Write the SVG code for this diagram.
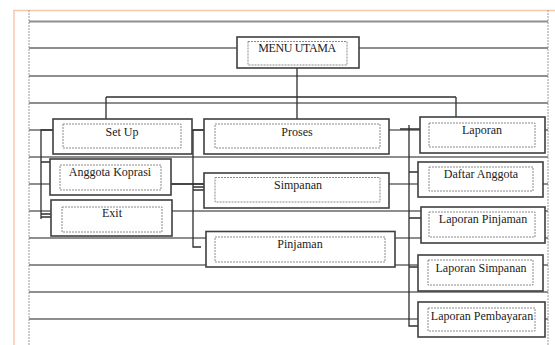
<svg xmlns="http://www.w3.org/2000/svg" width="555" height="345" viewBox="0 0 555 345">
<style>
.row{stroke:#8e8e8e;stroke-width:1.8;fill:none}
.vb{stroke:#9a9a9a;stroke-width:1;stroke-dasharray:2 1;fill:none}
.pg{stroke:#f6c9ad;stroke-width:1.5;fill:none}
.box{fill:#fff;stroke:#3f3f3f;stroke-width:1.6}
.in{fill:none;stroke:#8a8a8a;stroke-width:1;stroke-dasharray:2 1}
.t{font-family:"Liberation Serif","Times New Roman","DejaVu Serif",serif;font-size:12px;fill:#222;text-anchor:middle}
.c{stroke:#2f2f2f;stroke-width:1.3;fill:none}
</style>
<rect width="555" height="345" fill="#fff"/>
<g id="page">
<path class="pg" d="M13 10.5H555M14 10V345"/>
<path class="vb" d="M29 10V345M548 10V345"/>
<path class="row" d="M29 21.5H548M29 48H548M29 76H548M29 103H548M29 130H548M29 157H548M29 184H548M29 211H548M29 238H548M29 265H548M29 292H548M29 319H548"/>
</g>
<g id="connectors">
<path class="c" d="M297 68V97M106 97H456M106 97V119M297 97V119M456 97V117"/>
<path class="c" d="M53 130H41V219M41 162H50M41 214H51M41 217H51"/>
<path class="c" d="M192 130H204M193 130V247H201M193 187H204M193 190H204M171 184H204"/>
<path class="c" d="M409 125V326H418M400 129H420M409 172H418M409 218H421M409 267H418"/>
</g>
<g id="menu-utama"><rect class="box" x="237" y="37" width="122" height="31"/><rect class="in" x="248" y="41.5" width="99" height="23.5"/><text class="t" x="297" y="52" letter-spacing="-0.4">MENU UTAMA</text></g>
<g id="set-up"><rect class="box" x="53" y="119" width="139" height="35"/><rect class="in" x="63" y="124" width="118" height="24"/><text class="t" x="122" y="136">Set Up</text></g>
<g id="anggota-koprasi"><rect class="box" x="50" y="159" width="121" height="36"/><rect class="in" x="60" y="165" width="101" height="25"/><text class="t" x="110" y="176">Anggota Koprasi</text></g>
<g id="exit"><rect class="box" x="51" y="200" width="121" height="36"/><rect class="in" x="62" y="207" width="100" height="25"/><text class="t" x="112" y="217">Exit</text></g>
<g id="proses"><rect class="box" x="204" y="119" width="185" height="35"/><rect class="in" x="215" y="124" width="165" height="24"/><text class="t" x="297" y="136">Proses</text></g>
<g id="simpanan"><rect class="box" x="204" y="173" width="185" height="35"/><rect class="in" x="215" y="177.5" width="165" height="24.5"/><text class="t" x="298" y="189">Simpanan</text></g>
<g id="pinjaman"><rect class="box" x="206" y="231.5" width="189" height="35.5"/><rect class="in" x="215" y="237" width="170" height="25"/><text class="t" x="300" y="248">Pinjaman</text></g>
<g id="laporan"><rect class="box" x="420" y="117" width="125" height="36"/><rect class="in" x="429" y="123" width="106" height="24"/><text class="t" x="482" y="134">Laporan</text></g>
<g id="daftar-anggota"><rect class="box" x="418" y="162" width="125" height="35"/><rect class="in" x="429" y="167" width="104" height="24"/><text class="t" x="481" y="178">Daftar Anggota</text></g>
<g id="laporan-pinjaman"><rect class="box" x="421" y="207" width="124" height="36"/><rect class="in" x="429" y="212" width="106" height="25"/><text class="t" x="483" y="223">Laporan Pinjaman</text></g>
<g id="laporan-simpanan"><rect class="box" x="418" y="255" width="125" height="36"/><rect class="in" x="428" y="260" width="105" height="25"/><text class="t" x="481" y="272">Laporan Simpanan</text></g>
<g id="laporan-pembayaran"><rect class="box" x="418" y="302" width="127" height="35"/><rect class="in" x="428" y="308" width="107" height="23"/><text class="t" x="482" y="320">Laporan Pembayaran</text></g>
</svg>
